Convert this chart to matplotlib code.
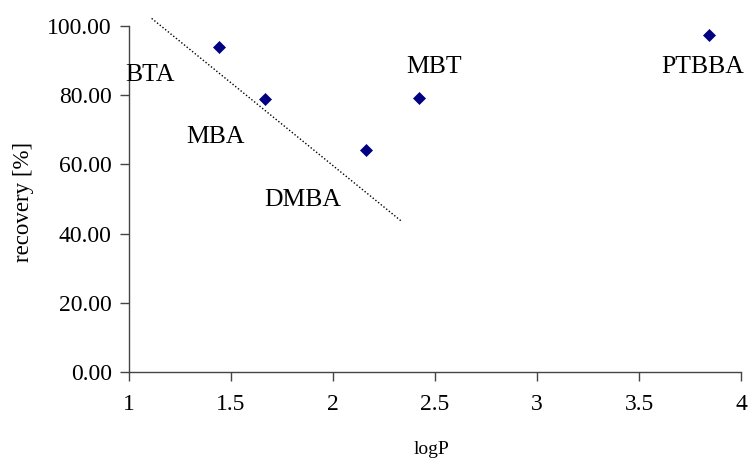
import matplotlib.pyplot as plt

# compound data: logP vs recovery
compounds = ['BTA', 'MBA', 'DMBA', 'MBT', 'PTBBA']
logp = [1.44, 1.665, 2.16, 2.42, 3.845]
recovery = [93.8, 78.8, 64.2, 79.3, 97.4]

# label anchor positions (data coords, text centre)
label_x = [1.103, 1.426, 1.853, 2.495, 3.81]
label_y = [85.8, 67.9, 49.7, 88.2, 88.2]

# dotted trend line end points
trend_x = [1.111, 2.333]
trend_y = [102.2, 43.7]

xticks = [1, 1.5, 2, 2.5, 3, 3.5, 4]
yticks = [0, 20, 40, 60, 80, 100]

plt.rcParams['font.family'] = ['Liberation Serif', 'DejaVu Serif']

W, H = 749, 461
fig = plt.figure(figsize=(W / 100, H / 100), dpi=100)
ax = fig.add_axes([129 / W, (H - 372) / H, (741 - 129) / W, (372 - 26) / H])

ax.plot(logp, recovery, linestyle='none', marker='D', markersize=6,
        color='#000080', markeredgewidth=0.5, clip_on=False)
ax.plot(trend_x, trend_y, linestyle=(0, (1, 1.5)), color='black', linewidth=1, clip_on=False)

for name, lx, ly in zip(compounds, label_x, label_y):
    ax.text(lx, ly, name, ha='center', va='center', fontsize=18.5)

ax.set_xlim(1, 4)
ax.set_ylim(0, 100)
ax.set_xticks(xticks)
ax.set_xticklabels([f'{v:g}' for v in xticks])
ax.set_yticks(yticks)
ax.set_yticklabels([f'{v:.2f}' for v in yticks])

for side in ['top', 'right']:
    ax.spines[side].set_visible(False)
for side in ['left', 'bottom']:
    ax.spines[side].set_color('#444444')
    ax.spines[side].set_linewidth(1)

ax.tick_params(direction='out', length=6.5, width=1, color='#444444', labelsize=17)
ax.tick_params(axis='x', pad=9)
ax.tick_params(axis='y', pad=6)

# axis titles placed like the original
fig.text(23 / W, 1 - 202 / H, 'recovery [%]', rotation=90, ha='center', va='center', fontsize=16.5)
fig.text(432 / W, 1 - 449 / H, 'logP', ha='center', va='center', fontsize=14)

fig.savefig('out.png', dpi=100)
